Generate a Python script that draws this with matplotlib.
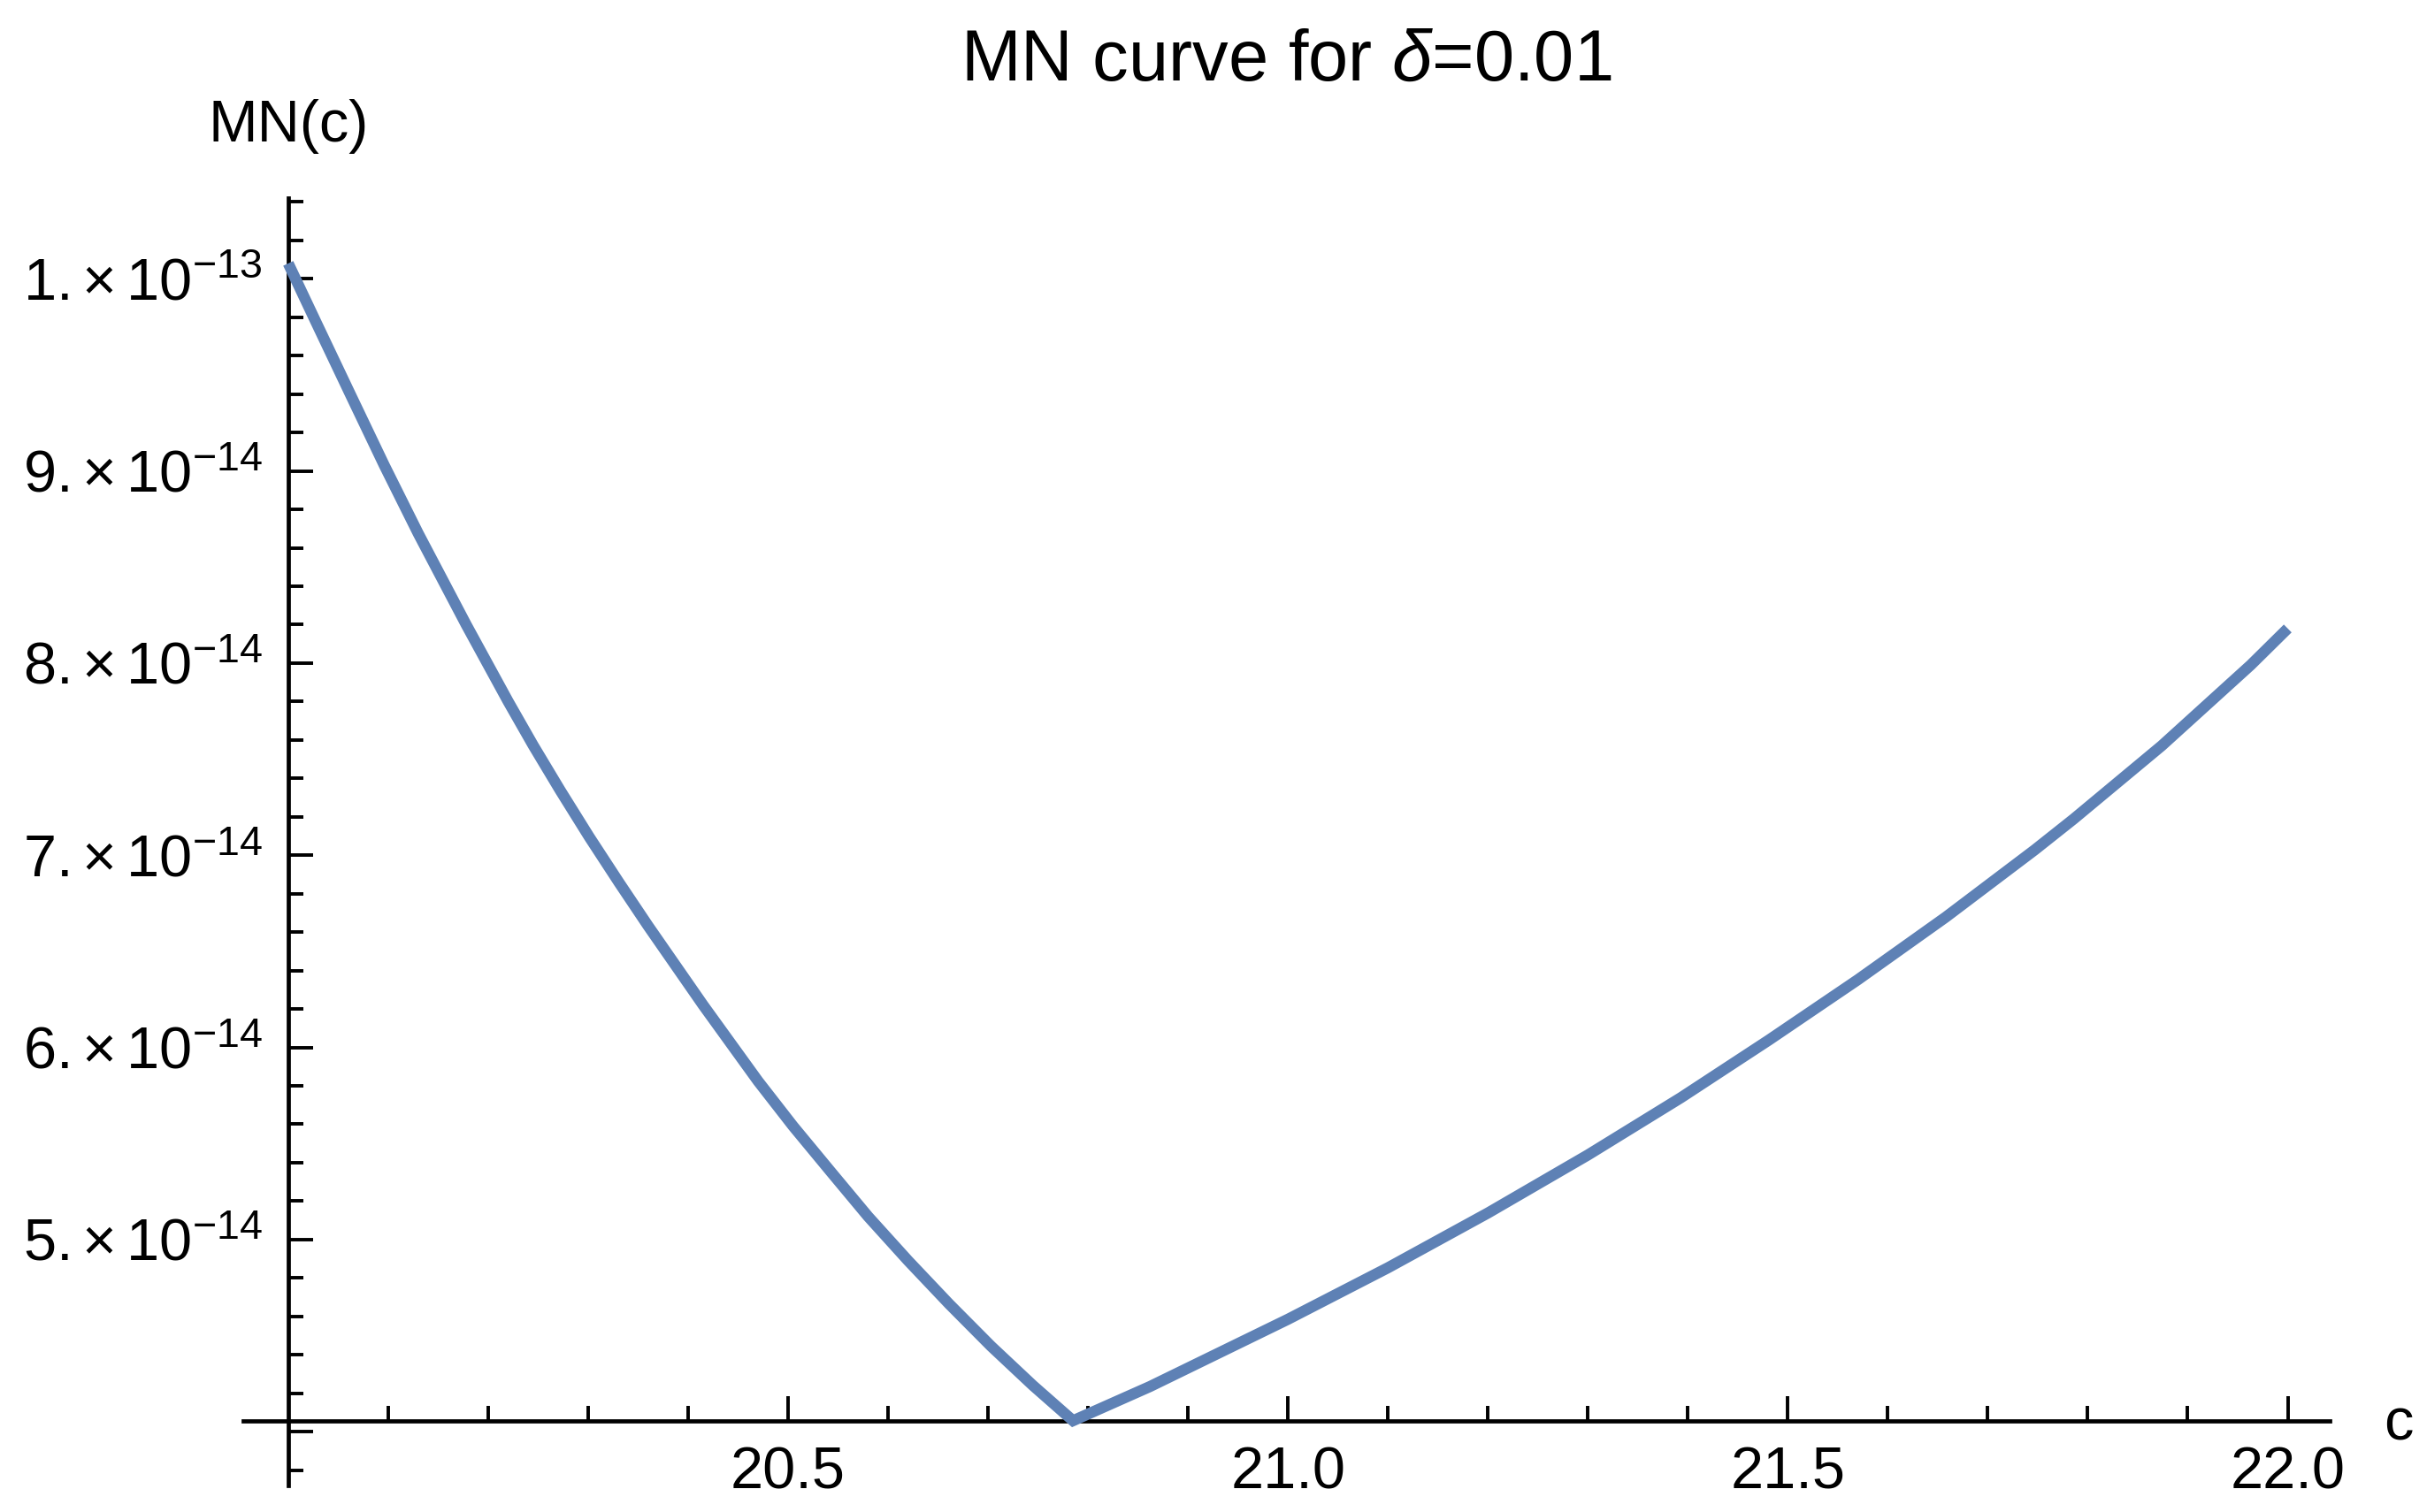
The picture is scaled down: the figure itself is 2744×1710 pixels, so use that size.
import matplotlib
matplotlib.use("Agg")
import matplotlib.pyplot as plt
from matplotlib.ticker import FixedLocator

# values (MN in units of 1e-14)
c_vals = [20.0, 20.028, 20.062, 20.096, 20.130, 20.178, 20.220, 20.245, 20.272,
          20.301, 20.331, 20.360, 20.415, 20.470, 20.505, 20.543, 20.580, 20.620,
          20.661, 20.703, 20.745, 20.785,
          20.862, 21.0, 21.1, 21.2, 21.3, 21.393, 21.481, 21.570, 21.658,
          21.747, 21.786, 21.874, 21.963, 22.0]
mn_vals = [10.08, 9.772, 9.40, 9.03, 8.675, 8.20, 7.80, 7.572, 7.338,
           7.096, 6.857, 6.632, 6.22, 5.824, 5.59, 5.351, 5.12, 4.89,
           4.665, 4.445, 4.24, 4.057,
           4.235, 4.585, 4.853, 5.138, 5.44, 5.738, 6.038, 6.352, 6.678,
           7.028, 7.189, 7.57, 7.99, 8.18]
mn_vals = [v * 1e-14 for v in mn_vals]

x_major = [20.5, 21.0, 21.5, 22.0]
x_labels = ["20.5", "21.0", "21.5", "22.0"]
y_major = [4e-14, 5e-14, 6e-14, 7e-14, 8e-14, 9e-14, 1e-13]
y_mant = ["", "5", "6", "7", "8", "9", "1"]
y_exp = ["", "-14", "-14", "-14", "-14", "-14", "-13"]
y_labels = [r"$%s.{\times}\hspace{0.2}10^{%s}$" % (m, e) if m else ""
            for m, e in zip(y_mant, y_exp)]

plt.rcParams['font.family'] = ['Liberation Sans', 'DejaVu Sans']
plt.rcParams['mathtext.fontset'] = 'custom'
plt.rcParams['mathtext.rm'] = 'Liberation Sans'
plt.rcParams['mathtext.it'] = 'Liberation Sans:italic'
plt.rcParams['mathtext.bf'] = 'Liberation Sans:bold'

W, H = 2744, 1710
fig = plt.figure(figsize=(W / 100, H / 100), dpi=100)
ax = fig.add_axes([275 / W, 30 / H, (2634 - 275) / W, (1680 - 224) / H])

ax.plot(c_vals, mn_vals, color='#5E81B5', lw=9, solid_capstyle='butt',
        solid_joinstyle='miter', zorder=3)

ax.set_xlim(19.955, 22.042)
ax.set_ylim(3.72e-14, 10.42e-14)

# Mathematica style axes crossing at (20, min)
ax.spines['left'].set_position(('data', 20.0))
ax.spines['bottom'].set_position(('data', 4.0575e-14))
ax.spines['top'].set_visible(False)
ax.spines['right'].set_visible(False)
for s in ('left', 'bottom'):
    ax.spines[s].set_linewidth(3.4)
    ax.spines[s].set_zorder(2)

ax.xaxis.set_major_locator(FixedLocator(x_major))
ax.set_xticklabels(x_labels)
ax.xaxis.set_minor_locator(FixedLocator([20.0 + 0.1 * i for i in range(1, 20) if i % 5 != 0]))
ax.yaxis.set_major_locator(FixedLocator(y_major))
ax.set_yticklabels(y_labels)
ax.yaxis.set_minor_locator(FixedLocator([(3.8 + 0.2 * i) * 1e-14 for i in range(34) if i % 5 != 1]))

ax.tick_params(which='both', direction='in', labelsize=48, pad=21, width=2.8)
ax.tick_params(which='major', length=20)
ax.tick_params(which='minor', length=12)
ax.tick_params(axis='x', top=False)
ax.tick_params(axis='y', right=False)

fig.text(1454 / W, 1 - 91 / H, r"MN curve for $\delta$=0.01", ha='center', va='baseline', fontsize=58.5)
fig.text(326 / W, 1 - 160 / H, "MN(c)", ha='center', va='baseline', fontsize=48)
fig.text(2712 / W, 1 - 1628 / H, "c", ha='center', va='baseline', fontsize=48)

fig.savefig("out.png", dpi=100)
